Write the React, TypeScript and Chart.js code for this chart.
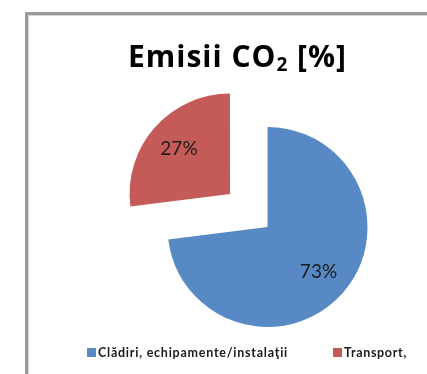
import React, { useEffect, useRef } from 'react';
import { Chart, registerables } from 'chart.js';

Chart.register(...registerables);

// Emission shares by sector
const categories = ['Clădiri, echipamente/instalaţii', 'Transport,'];
const shares = [73, 27];
const sliceColors = ['#5789C4', '#C45B58'];
// Chart.js translates an arc by offset / 4, so 200 pulls the slice out by 50px
const sliceOffsets = [0, 200];
const titleParts = ['Emisii CO', '2', ' [%]'];

// Layout of the title and the bottom legend
const TITLE_CENTER_X = 237.5;
const TITLE_WIDTH = 219;
const TITLE_BASELINE = 67;
const legendBoxX = [87, 333];
const legendTextWidth = [190, 63];

const FONT = 'Lato, "Open Sans", "DejaVu Sans", sans-serif';
const TITLE_FONT = '"Open Sans", Lato, "DejaVu Sans", sans-serif';

// Spreads text to a target width via letter spacing
function fitSpacing(ctx: CanvasRenderingContext2D, natural: number, target: number, chars: number) {
  const spacing = (target - natural) / Math.max(chars, 1);
  (ctx as any).letterSpacing = `${spacing}px`;
  return spacing;
}

const framePlugin = {
  id: 'frame',
  beforeDraw(chart: Chart) {
    const ctx = chart.ctx;
    ctx.save();
    ctx.fillStyle = '#ffffff';
    ctx.fillRect(0, 0, chart.width, chart.height);
    ctx.fillStyle = '#9a9a9a';
    ctx.fillRect(25, 12, 3, chart.height);
    ctx.fillRect(25, 12, chart.width, 3);
    ctx.fillStyle = '#d6d6d6';
    ctx.fillRect(28, 15, 1, chart.height);
    ctx.fillRect(28, 15, chart.width, 1);
    ctx.restore();
  },
};

const titlePlugin = {
  id: 'subTitle',
  afterDraw(chart: Chart) {
    const ctx = chart.ctx;
    ctx.save();
    ctx.fillStyle = '#000000';
    ctx.textBaseline = 'alphabetic';
    ctx.textAlign = 'left';
    const big = `bold 30px ${TITLE_FONT}`;
    const small = `bold 19px ${TITLE_FONT}`;
    (ctx as any).letterSpacing = '0px';
    ctx.font = big;
    const w1 = ctx.measureText(titleParts[0]).width;
    const w3 = ctx.measureText(titleParts[2]).width;
    ctx.font = small;
    const w2 = ctx.measureText(titleParts[1]).width;
    const chars = titleParts.join('').length;
    const sp = fitSpacing(ctx, w1 + w2 + w3, TITLE_WIDTH, chars);
    let x = TITLE_CENTER_X - TITLE_WIDTH / 2;
    ctx.font = big;
    ctx.fillText(titleParts[0], x, TITLE_BASELINE);
    x += w1 + sp * titleParts[0].length;
    ctx.font = small;
    ctx.fillText(titleParts[1], x, TITLE_BASELINE + 4);
    x += w2 + sp * titleParts[1].length;
    ctx.font = big;
    ctx.fillText(titleParts[2], x, TITLE_BASELINE);
    ctx.restore();
  },
};

const legendPlugin = {
  id: 'bottomLegend',
  afterDraw(chart: Chart) {
    const ctx = chart.ctx;
    const labels = chart.data.labels as string[];
    const colors = chart.data.datasets[0].backgroundColor as string[];
    ctx.save();
    ctx.textBaseline = 'alphabetic';
    ctx.textAlign = 'left';
    labels.forEach((label, i) => {
      const x = legendBoxX[i];
      ctx.fillStyle = colors[i];
      ctx.fillRect(x, 348, 9, 9);
      ctx.font = `bold 12.5px ${FONT}`;
      (ctx as any).letterSpacing = '0px';
      const natural = ctx.measureText(label).width;
      fitSpacing(ctx, natural, legendTextWidth[i], label.length);
      ctx.fillStyle = '#1a1a1a';
      ctx.fillText(label, x + 11, 357);
    });
    ctx.restore();
  },
};

const valueLabelPlugin = {
  id: 'valueLabels',
  afterDatasetsDraw(chart: Chart) {
    const ctx = chart.ctx;
    const meta = chart.getDatasetMeta(0);
    const values = chart.data.datasets[0].data as number[];
    ctx.save();
    ctx.font = `19px ${FONT}`;
    ctx.fillStyle = '#1c1c1c';
    ctx.textAlign = 'center';
    ctx.textBaseline = 'middle';
    meta.data.forEach((el: any, i: number) => {
      const { x, y, startAngle, endAngle, outerRadius } = el.getProps(
        ['x', 'y', 'startAngle', 'endAngle', 'outerRadius'],
        true
      );
      const shift = (el.options.offset || 0) / 4;
      const mid = (startAngle + endAngle) / 2;
      const d = shift + outerRadius * 0.68;
      ctx.fillText(`${values[i]}%`, x + Math.cos(mid) * d, y + Math.sin(mid) * d);
    });
    ctx.restore();
  },
};

export default function App() {
  const canvasRef = useRef<HTMLCanvasElement>(null);

  useEffect(() => {
    if (!canvasRef.current) return;
    const chart = new Chart(canvasRef.current, {
      type: 'pie',
      data: {
        labels: categories,
        datasets: [
          {
            data: shares,
            backgroundColor: sliceColors,
            borderWidth: 0,
            offset: sliceOffsets,
            clip: false,
          } as any,
        ],
      },
      options: {
        responsive: false,
        animation: false,
        devicePixelRatio: 1,
        radius: 100,
        layout: { padding: { left: 120, right: 12, top: 100, bottom: 20 } },
        plugins: {
          legend: { display: false },
          title: { display: false },
          tooltip: { enabled: false },
        },
        events: [],
      } as any,
      plugins: [framePlugin, titlePlugin, legendPlugin, valueLabelPlugin],
    });
    return () => chart.destroy();
  }, []);

  return (
    <div style={{ position: 'fixed', left: 0, top: 0, width: 427, height: 374, background: '#fff' }}>
      <canvas ref={canvasRef} width={427} height={374} style={{ display: 'block' }} />
    </div>
  );
}
